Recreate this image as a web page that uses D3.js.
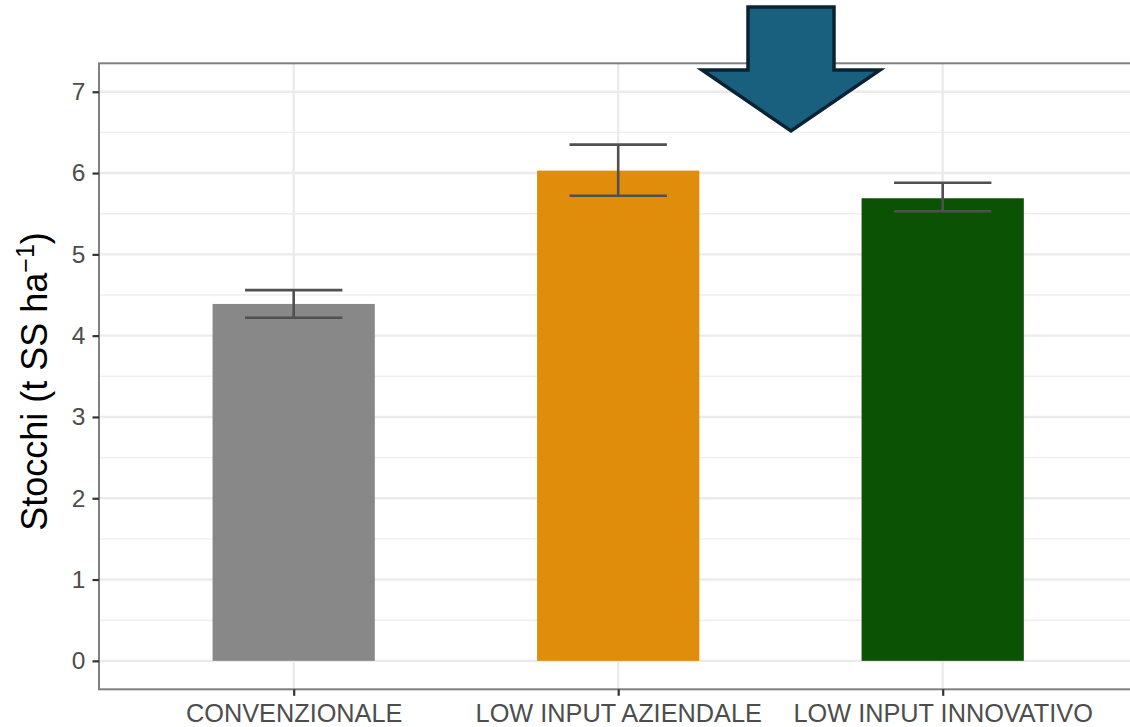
<!DOCTYPE html>
<html>
<head>
<meta charset="utf-8">
<script src="https://cdn.jsdelivr.net/npm/d3@7"></script>
<style>
  html, body { margin: 0; padding: 0; background: #ffffff; }
  svg { display: block; }
  text { font-family: "Liberation Sans", Arial, Helvetica, sans-serif; }
</style>
</head>
<body>
<svg id="chart" width="1130" height="727"></svg>
<script>
// Stalk dry-matter yield per management system (mean ± error)
const categories = ["CONVENZIONALE", "LOW INPUT AZIENDALE", "LOW INPUT INNOVATIVO"];
const means = [4.39, 6.03, 5.69];
const errLow = [4.22, 5.72, 5.53];
const errHigh = [4.56, 6.35, 5.88];
const barColors = ["#888888", "#DF8D0B", "#0B5204"];
const yTicks = [0, 1, 2, 3, 4, 5, 6, 7];
const yMinor = [0.5, 1.5, 2.5, 3.5, 4.5, 5.5, 6.5];
const yLabel = "Stocchi (t SS ha";

const svg = d3.select("#chart");

// Panel geometry
const panel = { left: 99, top: 63.3, bottom: 689.3 };
const unit = 324.5;                       // width of one category slot
const panelRight = panel.left + unit * 3.2;

// Discrete axis: categories at 1..3, panel spans 0.4..3.6
const xPos = d3.scaleLinear().domain([0.4, 3.6]).range([panel.left, panelRight]);
const x = c => xPos(categories.indexOf(c) + 1);
const y = d3.scaleLinear().domain([-0.35, 7.35]).range([panel.bottom, panel.top]);

const g = svg.append("g");

// Grid lines
g.selectAll(".minor").data(yMinor).join("line")
  .attr("x1", panel.left).attr("x2", panelRight)
  .attr("y1", d => y(d)).attr("y2", d => y(d))
  .attr("stroke", "#efefef").attr("stroke-width", 1.4);
g.selectAll(".major").data(yTicks).join("line")
  .attr("x1", panel.left).attr("x2", panelRight)
  .attr("y1", d => y(d)).attr("y2", d => y(d))
  .attr("stroke", "#ebebeb").attr("stroke-width", 2.4);
g.selectAll(".vmajor").data(categories).join("line")
  .attr("x1", d => x(d)).attr("x2", d => x(d))
  .attr("y1", panel.top).attr("y2", panel.bottom)
  .attr("stroke", "#ebebeb").attr("stroke-width", 2.4);

// Bars
const barW = 0.5 * unit;
g.selectAll(".bar").data(categories).join("rect")
  .attr("x", d => x(d) - barW / 2)
  .attr("width", barW)
  .attr("y", (d, i) => y(means[i]))
  .attr("height", (d, i) => y(0) - y(means[i]))
  .attr("fill", (d, i) => barColors[i]);

// Error bars
const errW = 0.3 * unit;
const eb = g.selectAll(".err").data(categories).join("g")
  .attr("stroke", "#505050").attr("stroke-width", 2.6).attr("fill", "none");
eb.append("line")
  .attr("x1", d => x(d)).attr("x2", d => x(d))
  .attr("y1", (d, i) => y(errHigh[i])).attr("y2", (d, i) => y(errLow[i]));
eb.append("line")
  .attr("x1", d => x(d) - errW / 2).attr("x2", d => x(d) + errW / 2)
  .attr("y1", (d, i) => y(errHigh[i])).attr("y2", (d, i) => y(errHigh[i]));
eb.append("line")
  .attr("x1", d => x(d) - errW / 2).attr("x2", d => x(d) + errW / 2)
  .attr("y1", (d, i) => y(errLow[i])).attr("y2", (d, i) => y(errLow[i]));

// Panel border
g.append("rect")
  .attr("x", panel.left).attr("y", panel.top)
  .attr("width", panelRight - panel.left).attr("height", panel.bottom - panel.top)
  .attr("fill", "none").attr("stroke", "#808080").attr("stroke-width", 2);

// Y axis
const yAxis = svg.append("g")
  .attr("transform", `translate(${panel.left},0)`)
  .call(d3.axisLeft(y).tickValues(yTicks).tickSize(6.5).tickPadding(7).tickFormat(d3.format("d")));
yAxis.select(".domain").remove();
yAxis.selectAll(".tick line").attr("stroke", "#333333").attr("stroke-width", 2.2);
yAxis.selectAll(".tick text")
  .attr("fill", "#4d4d4d").style("font-size", "24.5px")
  .style("font-family", "'Liberation Sans', Arial, sans-serif");

// X axis
const xAxis = svg.append("g")
  .attr("transform", `translate(0,${panel.bottom})`)
  .call(d3.axisBottom(d3.scalePoint().domain(categories).range([x(categories[0]), x(categories[2])]))
    .tickSize(6.5).tickPadding(8));
xAxis.select(".domain").remove();
xAxis.selectAll(".tick line").attr("stroke", "#333333").attr("stroke-width", 2.2);
xAxis.selectAll(".tick text")
  .attr("fill", "#4d4d4d").style("font-size", "25.3px")
  .style("font-family", "'Liberation Sans', Arial, sans-serif");

// Y axis title with superscript unit
const title = svg.append("text")
  .attr("transform", `translate(47,${(233 + 530) / 2}) rotate(-90)`)
  .attr("text-anchor", "middle")
  .attr("fill", "#000000")
  .style("font-size", "36px");
title.append("tspan").text(yLabel);
title.append("tspan").attr("dy", -13).style("font-size", "25px").text("\u22121");
title.append("tspan").attr("dy", 13).text(")");

// Highlight arrow pointing down between the low-input bars
const arrow = { cx: 791, shaftHalf: 43, top: 7, neck: 70, wingHalf: 89, tip: 131 };
const arrowPath = d3.path();
arrowPath.moveTo(arrow.cx - arrow.shaftHalf, arrow.top);
arrowPath.lineTo(arrow.cx + arrow.shaftHalf, arrow.top);
arrowPath.lineTo(arrow.cx + arrow.shaftHalf, arrow.neck);
arrowPath.lineTo(arrow.cx + arrow.wingHalf, arrow.neck);
arrowPath.lineTo(arrow.cx, arrow.tip);
arrowPath.lineTo(arrow.cx - arrow.wingHalf, arrow.neck);
arrowPath.lineTo(arrow.cx - arrow.shaftHalf, arrow.neck);
arrowPath.closePath();
svg.append("path")
  .attr("d", arrowPath.toString())
  .attr("fill", "#19607F")
  .attr("stroke", "#0A2334")
  .attr("stroke-width", 3.5)
  .attr("stroke-linejoin", "miter");
</script>
</body>
</html>
